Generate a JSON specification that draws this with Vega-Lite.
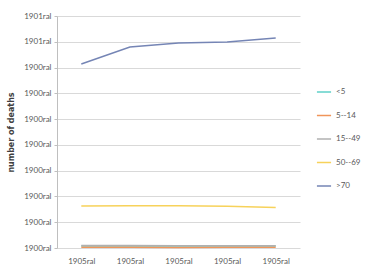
{
  "$schema": "https://vega.github.io/schema/vega-lite/v6.json",
  "width": 243,
  "height": 232,
  "autosize": "none",
  "padding": {"left": 57, "top": 16, "right": 69, "bottom": 23},
  "background": "white",
  "config": {
    "view": {"stroke": null},
    "font": "Lato",
    "axis": {"labelColor": "#595959", "labelFont": "Lato", "labelFontSize": 8}
  },
  "data": {
    "values": [
      {"period": 1, "group": "<5", "deaths": 0.08},
      {"period": 2, "group": "<5", "deaths": 0.08},
      {"period": 3, "group": "<5", "deaths": 0.08},
      {"period": 4, "group": "<5", "deaths": 0.08},
      {"period": 5, "group": "<5", "deaths": 0.08},
      {"period": 1, "group": "5--14", "deaths": 0.03},
      {"period": 2, "group": "5--14", "deaths": 0.03},
      {"period": 3, "group": "5--14", "deaths": 0.02},
      {"period": 4, "group": "5--14", "deaths": 0.03},
      {"period": 5, "group": "5--14", "deaths": 0.03},
      {"period": 1, "group": "15--49", "deaths": 0.1},
      {"period": 2, "group": "15--49", "deaths": 0.1},
      {"period": 3, "group": "15--49", "deaths": 0.09},
      {"period": 4, "group": "15--49", "deaths": 0.09},
      {"period": 5, "group": "15--49", "deaths": 0.09},
      {"period": 1, "group": "50--69", "deaths": 1.63},
      {"period": 2, "group": "50--69", "deaths": 1.64},
      {"period": 3, "group": "50--69", "deaths": 1.64},
      {"period": 4, "group": "50--69", "deaths": 1.62},
      {"period": 5, "group": "50--69", "deaths": 1.57},
      {"period": 1, "group": ">70", "deaths": 7.14},
      {"period": 2, "group": ">70", "deaths": 7.8},
      {"period": 3, "group": ">70", "deaths": 7.95},
      {"period": 4, "group": ">70", "deaths": 7.99},
      {"period": 5, "group": ">70", "deaths": 8.15}
    ]
  },
  "mark": {"type": "line", "strokeWidth": 1.5, "point": false},
  "encoding": {
    "x": {
      "field": "period",
      "type": "ordinal",
      "scale": {"type": "point", "padding": 0.5},
      "axis": {
        "title": null,
        "labelExpr": "'1905ral'",
        "labelAngle": 0,
        "domain": false,
        "ticks": false,
        "labelPadding": 9,
        "grid": false
      }
    },
    "y": {
      "field": "deaths",
      "type": "quantitative",
      "scale": {"domain": [0, 9], "nice": false, "zero": true},
      "axis": {
        "title": "number of deaths",
        "titleFontSize": 8,
        "titleFont": "DejaVu Sans",
        "titleFontWeight": "bold",
        "titleColor": "#404040",
        "titlePadding": 8,
        "values": [0, 1, 2, 3, 4, 5, 6, 7, 8, 9],
        "labelExpr": "datum.value >= 8 ? '1901ral' : '1900ral'",
        "domainColor": "#bfbfbf",
        "tickColor": "#bfbfbf",
        "tickSize": 3,
        "gridColor": "#d9d9d9",
        "labelPadding": 3
      }
    },
    "color": {
      "field": "group",
      "type": "nominal",
      "sort": ["<5", "5--14", "15--49", "50--69", ">70"],
      "scale": {
        "domain": ["<5", "5--14", "15--49", "50--69", ">70"],
        "range": ["#5fd0c8", "#f0955a", "#b0b0b0", "#f7d25a", "#7585b5"]
      },
      "legend": {
        "title": null,
        "orient": "none",
        "legendX": 259,
        "legendY": 68,
        "symbolType": "stroke",
        "symbolSize": 200,
        "symbolStrokeWidth": 1.5,
        "rowPadding": 11.5,
        "labelFontSize": 8,
        "labelFont": "Lato",
        "labelColor": "#595959"
      }
    }
  }
}
